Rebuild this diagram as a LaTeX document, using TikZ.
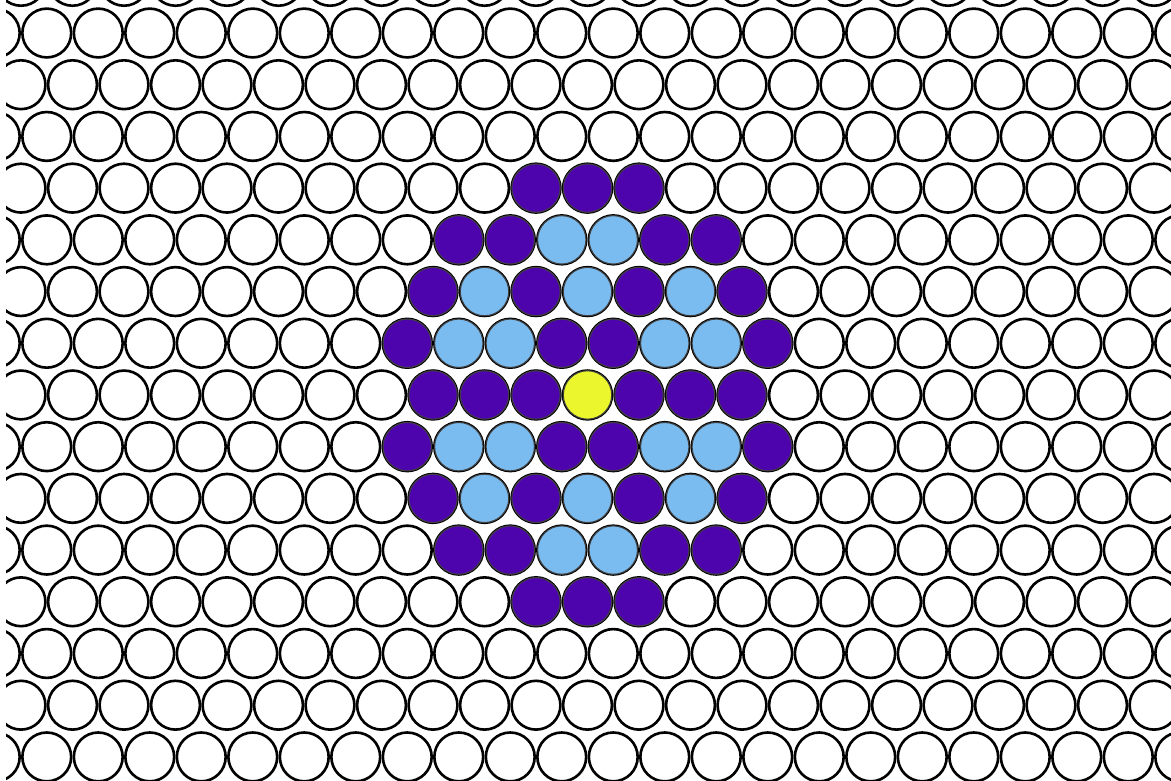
\documentclass[tikz,border=0pt]{standalone}
\usepackage{tikz}
\definecolor{dv}{RGB}{78,4,172}
\definecolor{pb}{RGB}{122,187,240}
\definecolor{lm}{RGB}{236,246,44}

\begin{document}
\begin{tikzpicture}[cell/.style={draw=black, line width=1.45pt, fill=white},
	ring/.style={draw=black!75, line width=0.6pt}]
	\useasboundingbox (0,0) rectangle (22.738,-15.146);
	\begin{scope}
		\clip (0.117,0) rectangle (22.738,-15.146);
		\foreach \r in {-1,...,15}
			\foreach \k in {-1,...,23}
				\draw[cell] ({\k+0.408+0.5*mod(\r+1,2)},{-0.641-1.004*\r}) circle (0.474);
		\foreach \r/\s/\cols in {3/10/{dv,dv,dv}, 4/8/{dv,dv,pb,pb,dv,dv},
			5/8/{dv,pb,dv,pb,dv,pb,dv}, 6/7/{dv,pb,pb,dv,dv,pb,pb,dv},
			7/8/{dv,dv,dv,lm,dv,dv,dv}, 8/7/{dv,pb,pb,dv,dv,pb,pb,dv},
			9/8/{dv,pb,dv,pb,dv,pb,dv}, 10/8/{dv,dv,pb,pb,dv,dv}, 11/10/{dv,dv,dv}}
			\foreach \c [count=\j from \s] in \cols
				\draw[ring, fill=\c] ({\j+0.408+0.5*mod(\r+1,2)},{-0.641-1.004*\r}) circle (0.47);
	\end{scope}
\end{tikzpicture}
\end{document}
